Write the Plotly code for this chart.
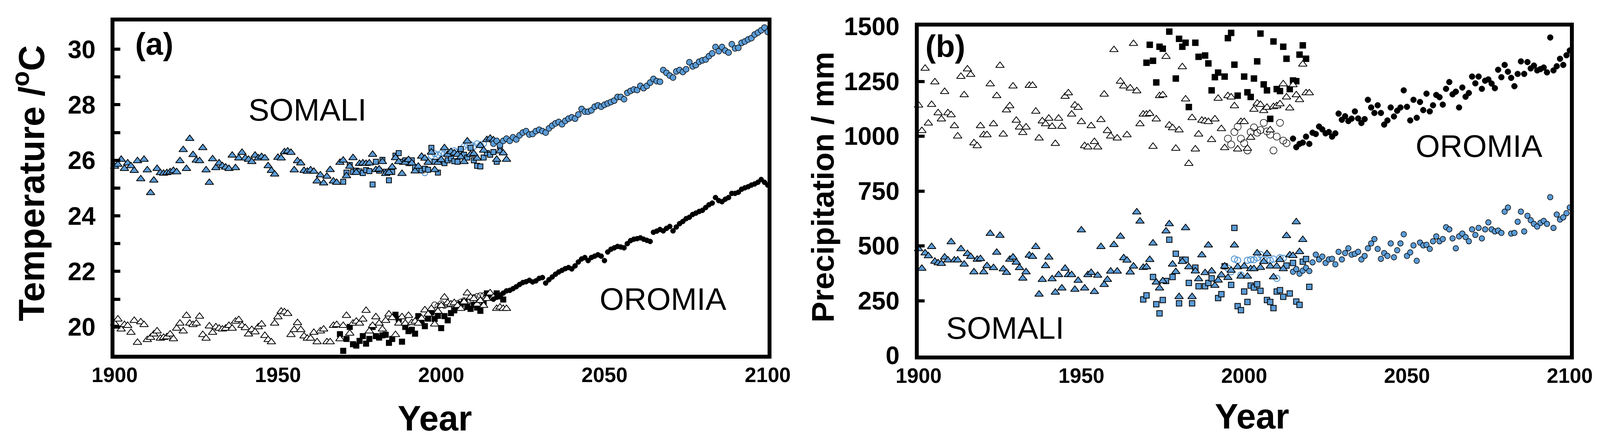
import plotly.graph_objects as go

# ---------------- DATA : panel (a) temperature (deg C) ----------------
yr_tri_a = list(range(1900, 2021))
som_tri_a = [25.78, 25.85, 26.03, 25.70, 25.90, 25.80, 25.63, 25.98, 25.33, 26.03,
             25.65, 24.83, 25.28, 25.70, 25.55, 25.53, 25.55, 25.58, 25.63, 25.58,
             25.98, 26.38, 25.70, 26.78, 26.20, 26.00, 25.98, 26.45, 25.65, 25.20,
             26.05, 25.73, 25.90, 25.80, 25.75, 25.70, 26.18, 25.73, 26.08, 26.28,
             26.08, 26.03, 25.95, 26.18, 26.08, 26.13, 26.08, 25.80, 25.63, 25.50,
             26.10, 26.08, 26.30, 26.33, 26.28, 25.65, 25.98, 25.90, 25.63, 25.60,
             25.65, 25.60, 25.25,
             25.47, 25.18, 25.42, 25.66, 25.25, 25.20, 25.92, 26.00, 25.44, 25.78,
             26.09, 25.56, 25.88, 25.90, 25.88, 25.90, 26.21, 25.66, 25.68, 25.95,
             25.52, 25.56, 25.76, 26.09, 25.95, 25.52, 25.92, 26.02, 25.90, 25.61,
             25.78, 26.14, 26.07, 25.92, 26.29, 25.66, 25.92, 26.02, 26.45, 26.21,
             26.31, 26.26, 26.21, 26.12, 25.95, 26.69, 26.21, 26.24, 26.07, 26.53,
             26.36, 26.74, 26.79, 26.73, 26.03, 26.33, 26.26, 26.03]
oro_tri_a = [20.13, 20.28, 19.92, 20.08, 20.05, 19.80, 20.23, 19.44, 20.18, 20.08,
             19.54, 19.62, 19.74, 19.85, 19.59, 19.62, 19.64, 19.74, 19.57, 19.95,
             20.13, 19.85, 20.41, 20.13, 20.08, 20.13, 20.38, 19.72, 19.59, 20.03,
             19.80, 20.00, 19.95, 19.92, 19.95, 20.05, 19.95, 20.20, 20.26, 20.05,
             19.97, 19.74, 19.90, 19.82, 20.00, 20.10, 19.69, 19.54, 19.46, 20.13,
             20.36, 20.56, 20.54, 20.48, 19.72, 19.90, 20.15, 19.90, 19.67, 19.59,
             19.59, 19.80, 19.46,
             19.85, 19.92, 19.46, 19.46, 20.05, 20.08, 19.57, 20.05, 20.41, 19.77,
             20.13, 20.20, 20.13, 20.28, 20.59, 19.85, 20.05, 20.36, 20.13, 19.92,
             20.23, 20.46, 20.33, 19.72, 20.13, 20.36, 20.13,
             20.41, 20.15, 20.20, 20.13, 20.31, 20.61, 20.46, 20.66, 20.10, 20.56,
             20.77, 21.07, 20.87, 20.82, 20.87, 20.77, 20.66, 20.90, 21.22, 21.07,
             21.02, 20.82, 20.95, 20.77, 21.02, 21.22, 21.07, 20.66, 20.71, 20.66, 20.66]

yr_sq_som_a = list(range(1970, 2019))
som_sq_a = [25.23, 25.56, 25.83, 25.58, 25.63, 25.60, 25.54, 25.65, 25.61, 25.13,
            25.95, 25.63, 26.02, 25.59, 25.28, 25.58, 26.17, 26.26, 25.95, 26.00,
            25.90, 26.00, 25.75, 25.64, 25.64, 25.70, 25.66, 26.45, 25.95, 25.56,
            25.95, 25.90, 26.00, 26.07, 25.97, 25.95, 26.41, 26.20, 26.10, 26.45,
            26.00, 25.80, 25.78, 26.10, 26.26, 26.20, 26.30, 25.95, 26.50]
yr_sq_oro_a = list(range(1969, 2020))
oro_sq_a = [19.74, 19.14, 19.57, 20.00, 19.38, 19.33, 19.50, 19.67, 19.40, 19.57,
            20.00, 19.67, 19.62, 19.70, 19.72, 19.43, 19.57, 20.44, 20.29, 19.47,
            20.00, 19.85, 19.90, 19.76, 20.39, 20.20, 20.03, 20.30, 20.53, 20.29,
            20.40, 19.96, 20.39, 20.24, 20.50, 20.60, 20.70, 20.82, 20.90, 20.72,
            20.65, 20.80, 20.70, 20.58, 20.90, 21.21, 21.06, 21.10, 21.21, 21.10, 20.99]

yr_oc_som_a = list(range(1995, 2014))
som_oc_a = [25.55, 26.00, 26.15, 26.24, 26.20, 26.25, 26.24, 26.30, 26.28, 26.35,
            26.30, 26.40, 26.50, 26.55, 26.57, 26.50, 26.60, 26.55, 26.60]
yr_oc_oro_a = list(range(1998, 2015))
oro_oc_a = [20.80, 20.75, 20.84, 20.77, 20.82, 20.82, 20.77, 20.85, 20.90, 20.95,
            20.90, 20.95, 21.06, 21.10, 21.13, 21.13, 21.10]

yr_proj_a = list(range(2016, 2101))
som_proj_a = [26.60, 26.70, 26.55, 26.70, 26.78, 26.70, 26.83, 26.75, 26.90, 27.00,
              27.05, 26.93, 26.95, 27.05, 27.10, 27.05, 27.00, 27.15, 27.25, 27.33,
              27.38, 27.30, 27.42, 27.50, 27.55, 27.50, 27.65, 27.85, 27.75, 27.75,
              27.80, 27.93, 27.98, 27.93, 28.00, 28.05, 28.10, 28.15, 28.28, 28.28,
              28.20, 28.43, 28.50, 28.55, 28.53, 28.68, 28.60, 28.68, 28.80, 28.93,
              28.85, 28.83, 29.25, 29.15, 29.05, 28.98, 29.20, 29.25, 29.18, 29.28,
              29.53, 29.38, 29.43, 29.55, 29.60, 29.63, 29.75, 29.85, 30.08, 29.93,
              30.08, 29.95, 29.88, 30.18, 30.03, 30.05, 30.23, 30.28, 30.35, 30.40,
              30.53, 30.60, 30.68, 30.78, 30.62]
oro_proj_a = [21.00, 21.07, 21.15, 21.22, 21.30, 21.32, 21.38, 21.45, 21.53, 21.60,
              21.63, 21.68, 21.62, 21.66, 21.75, 21.78, 21.58, 21.70, 21.80, 21.90,
              21.98, 22.04, 22.10, 22.14, 22.09, 22.20, 22.34, 22.45, 22.50, 22.39,
              22.50, 22.55, 22.60, 22.55, 22.39, 22.70, 22.80, 22.85, 22.90, 22.88,
              22.85, 23.00, 23.11, 23.16, 23.18, 23.21, 23.16, 23.12, 23.08, 23.41,
              23.45, 23.51, 23.46, 23.55, 23.62, 23.46, 23.60, 23.72, 23.80, 23.90,
              23.95, 24.05, 24.10, 24.16, 24.20, 24.30, 24.40, 24.46, 24.66, 24.55,
              24.51, 24.60, 24.66, 24.81, 24.81, 24.85, 24.96, 25.01, 25.05, 25.11,
              25.15, 25.21, 25.31, 25.21, 25.11]

# ---------------- DATA : panel (b) precipitation (mm) ----------------
yr_tri_oro_b = list(range(1900, 2021))
oro_tri_b = [1141, 1025, 1309, 1059, 1144, 1247, 1106, 1078, 1203, 1106,
             1097, 1047, 1000, 1272, 1188, 1306, 1281, 969, 956, 1047,
             1006, 1006, 1238, 1056, 1184, 1322, 1009, 1119, 1138, 1228,
             1072, 1041, 1016, 1041, 1231, 1231, 1113, 991, 1069, 1056,
             1081, 1044, 966, 1081, 1044, 1181, 1197, 1100, 1141, 1131,
             1066, 956, 950, 1047, 975, 950, 1075, 1191, 1025, 1000,
             1394, 991, 1250, 1228, 1006, 1219, 1422, 1206, 1056, 1100,
             1100, 1103, 953, 1078, 1184, 1188, 1363, 1050, 1038, 944,
             1028, 1316, 1169, 875, 1084, 941, 1009, 1072, 1069, 1066,
             984, 1078, 1172, 1034, 947, 1184, 1178, 1138, 941, 1066,
             1066, 944, 994, 1122, 1150, 1144, 1116, 1131, 1028, 1134,
             1138, 1147, 1238, 1178, 1128, 1234, 1188, 1166, 1328, 1197, 1197]
yr_tri_som_b = list(range(1900, 2019))
som_tri_b = [486, 397, 467, 454, 496, 429, 422, 419, 448, 435,
             518, 435, 435, 486, 416, 464, 451, 381, 438, 441,
             381, 409, 556, 400, 470, 547, 394, 378, 438, 448,
             425, 400, 352, 381, 457, 451, 496, 279, 346, 409,
             448, 349, 288, 368, 307, 397, 368, 368, 301, 342,
             572, 307, 368, 378, 291, 365, 496, 323, 346, 384,
             505, 384, 543, 445,
             434, 380, 407, 654, 612, 401, 404, 437, 512, 334,
             307, 340, 567, 600, 416, 382, 268, 428, 582, 404,
             268, 385, 349, 458, 377, 503, 385, 319, 343, 367,
             407, 355, 388, 503, 404, 361, 407, 361, 395, 395,
             467, 401, 428, 464, 407, 358, 407, 437, 395, 546,
             458, 455, 609, 473, 528]

yr_sq_oro_b = [1970, 1971, 1972, 1973, 1974, 1975, 1977, 1979, 1980, 1981,
               1982, 1983, 1985, 1986, 1988, 1989, 1990, 1991, 1992, 1994,
               1995, 1996, 1997, 1998, 2000, 2001, 2002, 2003, 2004, 2005,
               2006, 2007, 2008, 2009, 2010, 2011, 2012, 2013, 2014, 2015,
               2016, 2017, 2018, 2019]
oro_sq_b = [1335, 1417, 1344, 1245, 1408, 1399, 1477, 1263, 1444, 1408,
            1426, 1133, 1426, 1362, 1368, 1332, 1209, 1269, 1290, 1272,
            1447, 1471, 1326, 1185, 1272, 1200, 1179, 1263, 1341, 1468,
            1236, 1209, 1079, 1432, 1215, 1206, 1408, 1353, 1215, 1254,
            1251, 1372, 1414, 1353]
yr_sq_som_b = [1969, 1970, 1972, 1973, 1974, 1975, 1976, 1977, 1978, 1979,
               1980, 1981, 1982, 1983, 1984, 1985, 1986, 1988, 1989, 1990,
               1992, 1993, 1994, 1996, 1997, 1998, 1999, 2000, 2001, 2002,
               2003, 2004, 2005, 2007, 2008, 2009, 2010, 2011, 2012, 2013,
               2014, 2015, 2016, 2017, 2018, 2019, 2020]
som_sq_b = [256, 274, 358, 234, 192, 253, 340, 528, 358, 464,
            238, 437, 437, 331, 238, 401, 316, 316, 331, 352,
            262, 280, 407, 322, 582, 225, 207, 292, 244, 319,
            310, 325, 295, 253, 244, 216, 292, 298, 268, 410,
            283, 422, 246, 231, 428, 440, 313]

yr_oc_oro_b = list(range(1995, 2014))
oro_oc_b = [989, 962, 1019, 1043, 989, 968, 935, 1019, 1040, 1016,
            1028, 1061, 1022, 1007, 935, 998, 1061, 980, 968]
yr_oc_som_b = [1995, 1996, 1997, 1998, 1999, 2001, 2002, 2003, 2004, 2005,
               2006, 2007, 2008, 2009, 2010, 2011, 2012]
som_oc_b = [398, 382, 440, 434, 367, 434, 437, 437, 446, 461,
            437, 437, 434, 440, 352, 446, 443]

yr_proj_b = list(range(2015, 2101))
som_proj_b = [382, 394, 373, 387, 400, 385, 425, 460, 438, 451,
              422, 438, 441, 416, 473, 438, 467, 489, 460, 464,
              473, 438, 454, 489, 511, 531, 486, 441, 467, 454,
              511, 448, 480, 511, 553, 454, 470, 502, 432, 515,
              502, 505, 486, 521, 543, 521, 531, 585, 575, 534,
              489, 543, 556, 540, 521, 575, 550, 582, 534, 575,
              607, 575, 566, 570, 559, 656, 675, 556, 559, 610,
              656, 566, 637, 617, 600, 588, 605, 614, 600, 722,
              582, 643, 620, 630, 649, 675]
oro_proj_b = [989, 950, 965, 971, 998, 965, 1016, 1010, 1044, 1031,
              1013, 1019, 998, 1013, 1103, 1075, 1091, 1069, 1080, 1113,
              1081, 1060, 1078, 1166, 1131, 1106, 1141, 1106, 1053, 1072,
              1131, 1090, 1116, 1131, 1209, 1134, 1072, 1166, 1084, 1156,
              1119, 1194, 1113, 1141, 1188, 1178, 1144, 1216, 1247, 1191,
              1203, 1131, 1222, 1180, 1197, 1272, 1241, 1272, 1216, 1253,
              1259, 1240, 1219, 1303, 1269, 1325, 1294, 1266, 1228, 1284,
              1341, 1284, 1338, 1309, 1322, 1300, 1306, 1313, 1291, 1450,
              1300, 1319, 1353, 1325, 1369, 1391]

x_ticks = [1900, 1950, 2000, 2050, 2100]
temp_ticks = [20, 22, 24, 26, 28, 30]
prec_ticks = [0, 250, 500, 750, 1000, 1250, 1500]

# ---------------- STYLE ----------------
BLUE = "#5B9BD5"
BOLD = "Liberation Sans, Arial, sans-serif"

fig = go.Figure()


def add(x, y, xa, ya, symbol, size, fill, lc, lw):
    fig.add_trace(go.Scatter(
        x=x, y=y, xaxis=xa, yaxis=ya, mode="markers", cliponaxis=False,
        marker=dict(symbol=symbol, size=size, color=fill,
                    line=dict(color=lc, width=lw)),
        showlegend=False, hoverinfo="skip"))


# panel (a)
add(yr_oc_som_a, som_oc_a, "x", "y", "circle-open", 15, BLUE, BLUE, 2.5)
add(yr_oc_oro_a, oro_oc_a, "x", "y", "circle-open", 15, "black", "black", 1.5)
add(yr_sq_oro_a, oro_sq_a, "x", "y", "square", 14, "black", "black", 1.5)
add(yr_sq_som_a, som_sq_a, "x", "y", "square", 13, BLUE, "black", 2)
add(yr_tri_a, oro_tri_a, "x", "y", "triangle-up", 19, "white", "black", 2)
add(yr_tri_a, som_tri_a, "x", "y", "triangle-up", 19, BLUE, "black", 2)
add(yr_proj_a, oro_proj_a, "x", "y", "circle", 13, "black", "black", 1)
add(yr_proj_a, som_proj_a, "x", "y", "circle", 15, BLUE, "black", 1.5)

# panel (b)
add(yr_oc_som_b, som_oc_b, "x2", "y2", "circle-open", 16, BLUE, BLUE, 2.5)
add(yr_oc_oro_b, oro_oc_b, "x2", "y2", "circle-open", 18, "black", "black", 1.5)
add(yr_sq_oro_b, oro_sq_b, "x2", "y2", "square", 15, "black", "black", 1.5)
add(yr_sq_som_b, som_sq_b, "x2", "y2", "square", 14, BLUE, "black", 2)
add(yr_tri_oro_b, oro_tri_b, "x2", "y2", "triangle-up", 19, "white", "black", 2)
add(yr_tri_som_b, som_tri_b, "x2", "y2", "triangle-up", 19, BLUE, "black", 2)
add(yr_proj_b, oro_proj_b, "x2", "y2", "circle", 15, "black", "black", 1)
add(yr_proj_b, som_proj_b, "x2", "y2", "circle", 14, BLUE, "black", 1.5)

xcommon = dict(range=[1900, 2100], tickvals=x_ticks, ticks="", showgrid=False,
               zeroline=False, showline=True, linewidth=10, linecolor="black",
               mirror=True, ticklabelstandoff=-4, automargin=False,
               tickfont=dict(family=BOLD, size=53, color="black", weight="bold"))
ycommon = dict(showgrid=False, zeroline=False, showline=True, linewidth=10,
               linecolor="black", mirror=True, ticks="inside", ticklen=15,
               tickwidth=8, tickcolor="black", ticklabelstandoff=26,
               automargin=False,
               tickfont=dict(family=BOLD, size=64, color="black", weight="bold"))

# the figure fills the browser window (responsive), so the layout follows the
# real viewport size; all positions below are fractions of it
fig.update_layout(
    template="none",
    margin=dict(l=0, r=0, t=0, b=0, pad=0, autoexpand=False),
    paper_bgcolor="white", plot_bgcolor="white",
    xaxis=dict(domain=[0.06997, 0.47975], anchor="y", **xcommon),
    yaxis=dict(domain=[0.19120, 0.95781], anchor="x", range=[19, 31],
               tickvals=temp_ticks,
               minor=dict(dtick=1, tick0=19, ticks="inside", ticklen=15,
                          tickwidth=8, tickcolor="black", showgrid=False),
               **ycommon),
    xaxis2=dict(domain=[0.57441, 0.98299], anchor="y2", **xcommon),
    yaxis2=dict(domain=[0.18941, 0.94614], anchor="x2", range=[0, 1500],
                tickvals=prec_ticks, **ycommon),
)

ann = []
title_font = dict(family=BOLD, size=90, color="black", weight="bold")
ann.append(dict(text="Year", x=0.2708, y=0.0449, xref="paper", yref="paper",
                showarrow=False, font=title_font, xanchor="center", yanchor="middle"))
ann.append(dict(text="Year", x=0.7836, y=0.0494, xref="paper", yref="paper",
                showarrow=False, font=title_font, xanchor="center", yanchor="middle"))
ann.append(dict(text="Temperature /<sup>o</sup>C", x=0.01618, y=0.5853,
                xref="paper", yref="paper", showarrow=False, textangle=-90,
                font=dict(family=BOLD, size=92, color="black", weight="bold"),
                xanchor="center", yanchor="middle"))
ann.append(dict(text="Precipitation / mm", x=0.51426, y=0.5763,
                xref="paper", yref="paper", showarrow=False, textangle=-90,
                font=dict(family=BOLD, size=80, color="black", weight="bold"),
                xanchor="center", yanchor="middle"))
panel_font = dict(family=BOLD, size=80, color="black", weight="bold")
ann.append(dict(text="(a)", x=0.09478, y=0.9062, xref="paper", yref="paper",
                showarrow=False, font=panel_font, xanchor="center", yanchor="middle"))
ann.append(dict(text="(b)", x=0.59106, y=0.9004, xref="paper", yref="paper",
                showarrow=False, font=panel_font, xanchor="center", yanchor="middle"))
label_font = dict(family=BOLD, size=80, color="black")
ann.append(dict(text="SOMALI", x=1959, y=27.82, xref="x", yref="y",
                showarrow=False, font=label_font))
ann.append(dict(text="OROMIA", x=2068, y=21.0, xref="x", yref="y",
                showarrow=False, font=label_font))
ann.append(dict(text="SOMALI", x=1926.6, y=126, xref="x2", yref="y2",
                showarrow=False, font=label_font))
ann.append(dict(text="OROMIA", x=2072.2, y=955, xref="x2", yref="y2",
                showarrow=False, font=label_font))
fig.update_layout(annotations=ann)

fig.write_html("out.html")
